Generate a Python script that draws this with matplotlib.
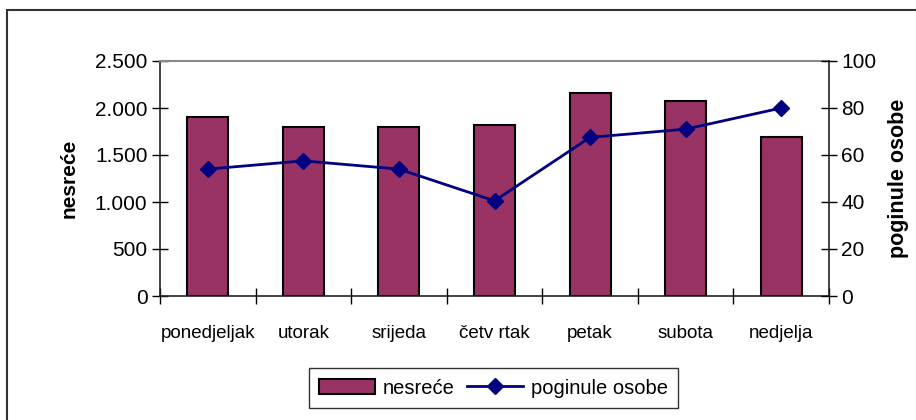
import matplotlib
matplotlib.use('Agg')
import matplotlib.pyplot as plt
from matplotlib.patches import Rectangle, Patch
from matplotlib.lines import Line2D
import numpy as np

days = ['ponedjeljak', 'utorak', 'srijeda', 'četv rtak', 'petak', 'subota', 'nedjelja']
accidents = [1905, 1800, 1800, 1820, 2163, 2078, 1695]
killed = [54, 57.5, 54, 40.5, 67.5, 71, 80]

plt.rcParams['font.family'] = ['Liberation Sans', 'DejaVu Sans']

bar_color = '#993366'
line_color = '#000080'

fig = plt.figure(figsize=(9.16, 4.2), dpi=100)
ax = fig.add_axes([160 / 916, 1 - 296 / 420, (829 - 160) / 916, (296 - 61) / 420])
x = np.arange(len(days))

ax.bar(x, accidents, width=0.43, color=bar_color, edgecolor='black', linewidth=1.5, zorder=2)
ax.set_xlim(-0.5, len(days) - 0.5)
ax.set_ylim(0, 2500)
ax.set_yticks(np.arange(0, 2501, 500))
ax.set_yticklabels([f'{int(v):,}'.replace(',', '.') for v in np.arange(0, 2501, 500)])
ax.set_xticks(x)
ax.set_xticklabels(days, fontsize=13.5)
ax.set_xticks(np.arange(-0.5, len(days), 1), minor=True)
ax.tick_params(axis='x', which='major', length=0, pad=21)
ax.tick_params(axis='x', which='minor', direction='inout', length=12, width=1)
ax.tick_params(axis='y', direction='inout', length=12, width=1, labelsize=15, pad=3)
ax.set_ylabel('nesreće', fontsize=15, fontweight='bold', labelpad=12)
for s in ['left', 'bottom']:
    ax.spines[s].set_linewidth(1.2)
    ax.spines[s].set_color('#222222')
ax.spines['top'].set_color('#888888')
ax.spines['top'].set_linewidth(1.5)
ax.spines['right'].set_visible(False)

ax2 = ax.twinx()
ax2.plot(x, killed, color=line_color, lw=2, marker='D', markersize=8, zorder=3)
ax2.set_ylim(0, 100)
ax2.set_yticks(np.arange(0, 101, 20))
ax2.tick_params(axis='y', direction='inout', length=12, width=1, labelsize=15, pad=3)
ax2.set_ylabel('poginule osobe', fontsize=15.5, fontweight='bold', labelpad=8)
ax2.spines['right'].set_linewidth(1.2)
ax2.spines['right'].set_color('#222222')
for s in ['top', 'left', 'bottom']:
    ax2.spines[s].set_visible(False)

handles = [Patch(facecolor=bar_color, edgecolor='black', linewidth=1.5),
           Line2D([], [], color=line_color, lw=2, marker='D', markersize=8)]
leg = fig.legend(handles, ['nesreće', 'poginule osobe'], loc='center',
                 bbox_to_anchor=(493.5 / 916, 1 - 388 / 420), ncol=2, fontsize=14.5,
                 frameon=True, fancybox=False, edgecolor='black', handlelength=2.8,
                 handletextpad=0.4, columnspacing=0.6, borderpad=0.5)
leg.get_frame().set_linewidth(1)

# outer chart-area border
fig.add_artist(Rectangle((7 / 916, -0.1), 1.1, 1.1 - 10.5 / 420, transform=fig.transFigure,
                         fill=False, edgecolor='#333333', linewidth=1.5))

fig.savefig('out.png', dpi=100)
